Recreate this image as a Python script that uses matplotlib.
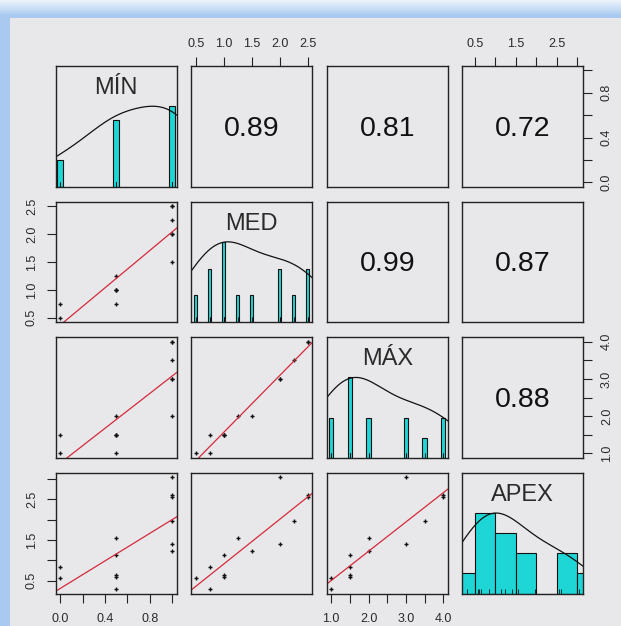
import matplotlib
matplotlib.use("Agg")
import matplotlib.pyplot as plt
import numpy as np

plt.rcParams["font.family"] = ["Liberation Sans", "DejaVu Sans"]

# ── Data (one row per observation) ────────────────────────────────────────────
VAR_NAMES = ["MÍN", "MED", "MÁX", "APEX"]
MIN_V = [0, 0, 0.5, 0.5, 0.5, 0.5, 0.5, 1, 1, 1, 1, 1, 1]
MED_V = [0.5, 0.75, 0.75, 1.0, 1.0, 1.0, 1.25, 1.5, 2.0, 2.0, 2.25, 2.5, 2.5]
MAX_V = [1.0, 1.5, 1.0, 1.5, 1.5, 1.5, 2.0, 2.0, 3.0, 3.0, 3.5, 4.0, 4.0]
APEX_V = [0.57, 0.84, 0.30, 1.13, 0.60, 0.65, 1.55, 1.23, 3.04, 1.40, 1.98, 2.60, 2.55]

# correlations printed in the upper panels
CORR_PAIRS = [(0, 1), (0, 2), (0, 3), (1, 2), (1, 3), (2, 3)]
CORR_TEXT = ["0.89", "0.81", "0.72", "0.99", "0.87", "0.88"]

# histogram breaks for APEX (Sturges); others drawn as thin bars per value
APEX_BREAKS = [0.0, 0.5, 1.0, 1.5, 2.0, 2.5, 3.0, 3.5]

# axis ticks / labels
MIN_TICKS = [0.0, 0.2, 0.4, 0.6, 0.8, 1.0]
MIN_LABELS = ["0.0", "", "0.4", "", "0.8", ""]
MED_TICKS = [0.5, 1.0, 1.5, 2.0, 2.5]
MED_LABELS = ["0.5", "1.0", "1.5", "2.0", "2.5"]
MAX_TICKS = [1.0, 1.5, 2.0, 2.5, 3.0, 3.5, 4.0]
MAX_LABELS = ["1.0", "", "2.0", "", "3.0", "", "4.0"]
APEX_TICKS = [0.5, 1.0, 1.5, 2.0, 2.5, 3.0]
APEX_LABELS = ["0.5", "", "1.5", "", "2.5", ""]

data = [np.array(v, float) for v in (MIN_V, MED_V, MAX_V, APEX_V)]
ticks = [(MIN_TICKS, MIN_LABELS), (MED_TICKS, MED_LABELS),
         (MAX_TICKS, MAX_LABELS), (APEX_TICKS, APEX_LABELS)]
BAR_W = [0.055, 0.045, 0.12, None]

HIST_COL = "#1ed6d6"
LINE_RED = "#d42a3c"
FRAME = "#222222"
TXT = "#2a2a2a"
TICK_PAD = {"top": 5, "bottom": 8, "left": 6.5, "right": 6.5}


def lims(v):
    r = v.max() - v.min()
    return v.min() - 0.04 * r, v.max() + 0.04 * r


def kde_scaled(v, adjust=1.2):
    q1, q3 = np.percentile(v, [25, 75])
    bw = 1.06 * min(v.std(ddof=1), (q3 - q1) / 1.34) * len(v) ** (-0.2) * adjust
    xs = np.linspace(v.min() - 3 * bw, v.max() + 3 * bw, 512)
    ys = np.exp(-0.5 * ((xs[:, None] - v[None, :]) / bw) ** 2).sum(axis=1)
    return xs, ys / ys.max()


# ── Figure + background ───────────────────────────────────────────────────────
W, H = 621, 626
fig = plt.figure(figsize=(W / 100, H / 100), dpi=100)
fig.patch.set_facecolor("#a9c9f1")

bg = fig.add_axes([0, 0, 1, 1], zorder=-5)
bg.axis("off")
band = matplotlib.colors.LinearSegmentedColormap.from_list("band", ["#eef4fc", "#a9c9f1"])
bg.imshow(np.linspace(0, 1, 32)[:, None], aspect="auto", cmap=band, extent=(0, W, 16, 0))
bg.add_patch(plt.Rectangle((10, 18), W, H, facecolor="#e8e8ea", edgecolor="none"))
bg.set_xlim(0, W)
bg.set_ylim(H, 0)

X0, Y0, STEP_X, STEP_Y, PW, PH = 55.7, 66.0, 135.5, 135.6, 121.0, 120.7

for i in range(4):
    for j in range(4):
        px, py = X0 + j * STEP_X, Y0 + i * STEP_Y
        ax = fig.add_axes([px / W, 1 - (py + PH) / H, PW / W, PH / H])
        ax.patch.set_alpha(0)
        for s in ax.spines.values():
            s.set_color(FRAME)
            s.set_linewidth(1.0)
        ax.tick_params(bottom=False, left=False, labelbottom=False, labelleft=False)
        ax.set_xlim(*lims(data[j]))
        ax.set_ylim(*lims(data[i]))

        if i == j:
            v = data[i]
            ax.set_ylim(0, 1.5)
            if BAR_W[i] is None:
                counts, edges = np.histogram(v, bins=APEX_BREAKS)
                ax.bar(edges[:-1], counts / counts.max(), width=np.diff(edges), align="edge",
                       color=HIST_COL, edgecolor="#111111", linewidth=0.8)
            else:
                vals, counts = np.unique(v, return_counts=True)
                ax.bar(vals, counts / counts.max(), width=BAR_W[i], color=HIST_COL,
                       edgecolor="#111111", linewidth=0.8)
            ax.vlines(v, 0, 0.06, color="#111111", linewidth=0.6)
            xs, ys = kde_scaled(v)
            ax.plot(xs, ys, color="#111111", linewidth=0.9)
            ax.text(0.5, 0.818, VAR_NAMES[i], transform=ax.transAxes, ha="center",
                    va="center", fontsize=17, color=TXT)
        elif i > j:
            ax.plot(data[j], data[i], "+", color="#111111", markersize=3.5, markeredgewidth=1.0)
            m, b = np.polyfit(data[j], data[i], 1)
            ax.axline((0, b), slope=m, color=LINE_RED, linewidth=0.9)
        else:
            txt = CORR_TEXT[CORR_PAIRS.index((i, j))]
            ax.text(0.5, 0.48, txt, transform=ax.transAxes, ha="center", va="center",
                    fontsize=20.5, color="#111111")

        tick_kw = dict(direction="out", length=6.3, width=0.8, color=FRAME,
                       labelsize=9, labelcolor=TXT)
        # column axes alternate bottom / top
        if (i == 3 and j % 2 == 0) or (i == 0 and j % 2 == 1):
            where = "bottom" if i == 3 else "top"
            ax.xaxis.set_ticks_position(where)
            ax.set_xticks(ticks[j][0])
            ax.set_xticklabels(ticks[j][1])
            ax.tick_params(axis="x", **{where: True, "label" + where: True},
                           pad=TICK_PAD[where], **tick_kw)
        # row axes alternate right / left
        if (j == 3 and i % 2 == 0) or (j == 0 and i % 2 == 1):
            where = "right" if j == 3 else "left"
            ax.yaxis.set_ticks_position(where)
            ax.set_yticks(ticks[i][0])
            ax.set_yticklabels(ticks[i][1], rotation=90, va="center")
            ax.tick_params(axis="y", **{where: True, "label" + where: True},
                           pad=TICK_PAD[where], **tick_kw)

fig.savefig("out.png", dpi=100, facecolor=fig.get_facecolor())
